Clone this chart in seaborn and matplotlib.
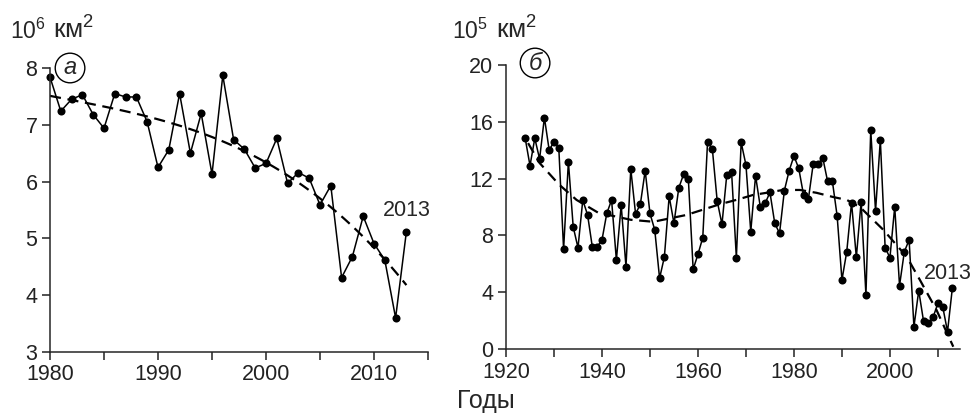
import numpy as np
import pandas as pd
import seaborn as sns
import matplotlib.pyplot as plt

# panel (а): 1980-2013, 10^6 km2
years_a = list(range(1980, 2014))
area_a = [7.84, 7.24, 7.45, 7.53, 7.18, 6.94, 7.55, 7.49, 7.49, 7.05,
          6.25, 6.56, 7.55, 6.50, 7.20, 6.13, 7.87, 6.74, 6.57, 6.24,
          6.32, 6.76, 5.97, 6.16, 6.06, 5.59, 5.93, 4.31, 4.68, 5.39,
          4.91, 4.62, 3.60, 5.12]

# panel (б): 1924-2013, 10^5 km2
years_b = list(range(1924, 2014))
area_b = [14.84, 12.91, 14.84, 13.38, 16.3, 14.0, 14.6, 14.18, 7.02, 13.19,
          8.61, 7.13, 10.49, 9.44, 7.16, 7.2, 7.68, 9.55, 10.49, 6.27,
          10.14, 5.8, 12.68, 9.51, 10.21, 12.56, 9.55, 8.38, 4.98, 6.48,
          10.75, 8.85, 11.34, 12.3, 11.95, 5.61, 6.67, 7.84, 14.6, 14.08,
          10.44, 8.78, 12.25, 12.49, 6.43, 14.55, 12.96, 8.26, 12.2, 9.98,
          10.26, 11.03, 8.85, 8.15, 11.15, 12.56, 13.59, 12.72, 10.85, 10.54,
          13.0, 13.0, 13.47, 11.83, 11.83, 9.37, 4.86, 6.85, 10.3, 6.46,
          10.37, 3.8, 15.42, 9.72, 14.72, 7.14, 6.43, 10.02, 4.46, 6.85,
          7.68, 1.57, 4.11, 1.97, 1.81, 2.25, 3.22, 2.98, 1.22, 4.27]

# dashed trend of panel (б)
trend_yr_b = [1924.6, 1927, 1931, 1934.7, 1939.2, 1946, 1950.7, 1957.6, 1964.6, 1968,
              1971.5, 1974.3, 1977.7, 1981.25, 1984.7, 1988.2, 1991, 1993.75, 1998.6,
              2003.5, 2006.25, 2009.7, 2013.2]
trend_b = [14.5, 13.1, 11.6, 10.5, 9.6, 9.1, 8.96, 9.44, 10.2, 10.5,
           10.85, 11.0, 11.2, 11.2, 11.0, 10.7, 10.5, 10.0, 8.4,
           6.5, 4.86, 2.75, 0.16]

sns.set_style('ticks')
plt.rcParams['font.family'] = ['Liberation Sans', 'DejaVu Sans']
plt.rcParams['mathtext.fontset'] = 'custom'
plt.rcParams['mathtext.rm'] = 'Liberation Sans'
plt.rcParams['mathtext.it'] = 'Liberation Sans:italic'

fig = plt.figure(figsize=(9.73, 4.17), dpi=100)
ax1 = fig.add_axes([50/973, 1-352/417, 378/973, 284/417])
ax2 = fig.add_axes([506/973, 1-349/417, 454/973, 284/417])

dash = dict(color='k', lw=1.6, ls=(0, (5, 3)))

for ax, yrs, vals in [(ax1, years_a, area_a), (ax2, years_b, area_b)]:
    df = pd.DataFrame({'year': yrs, 'area': vals})
    sns.lineplot(data=df, x='year', y='area', ax=ax, color='k', lw=1.1,
                 marker='o', markersize=5.8, markeredgewidth=0, clip_on=False)
    sns.despine(ax=ax)
    for s in ['left', 'bottom']:
        ax.spines[s].set_linewidth(1.1)
    ax.tick_params(which='both', length=6, width=1.1, direction='out',
                   labelsize=15.5, pad=3, colors='#222222')

# trend lines
sns.regplot(x=years_a, y=area_a, ax=ax1, order=3, ci=None, scatter=False,
            truncate=True, line_kws=dash)
sns.lineplot(x=trend_yr_b, y=trend_b, ax=ax2, **dash)

for ax in (ax1, ax2):
    ax.set_xlabel('')
    ax.set_ylabel('')

ax1.set_xlim(1980, 2015)
ax1.set_ylim(3, 8)
ax1.set_xticks([1980, 1990, 2000, 2010])
ax1.set_xticks([1985, 1995, 2005, 2015], minor=True)
ax1.set_yticks([3, 4, 5, 6, 7, 8])

ax2.set_xlim(1920, 2014.6)
ax2.set_ylim(0, 20)
ax2.set_xticks([1920, 1940, 1960, 1980, 2000])
ax2.set_xticks([1930, 1950, 1970, 1990, 2010], minor=True)
ax2.set_yticks([0, 4, 8, 12, 16, 20])

ax1.text(2013, 5.5, '2013', ha='center', va='center', fontsize=15.5)
ax2.text(2012, 5.35, '2013', ha='center', va='center', fontsize=15.5)

circ = dict(boxstyle='circle,pad=0.14', fc='none', ec='k', lw=1.0)
ax1.text(0.053, 1.0, 'а', transform=ax1.transAxes, ha='center', va='center',
         fontsize=17, style='italic', bbox=circ)
ax2.text(0.064, 1.007, 'б', transform=ax2.transAxes, ha='center', va='center',
         fontsize=17, style='italic', bbox=circ)

# units
fig.text(10/973, 1-39/417, '10$^6$', fontsize=16.5, ha='left', va='baseline')
fig.text(53/973, 1-39/417, 'км$^2$', fontsize=19, ha='left', va='baseline')
fig.text(452/973, 1-39/417, '10$^5$', fontsize=16.5, ha='left', va='baseline')
fig.text(496/973, 1-39/417, 'км$^2$', fontsize=19, ha='left', va='baseline')
fig.text(486/973, 1-408/417, 'Годы', fontsize=18, ha='center', va='baseline')

plt.savefig('out.png', dpi=100)
